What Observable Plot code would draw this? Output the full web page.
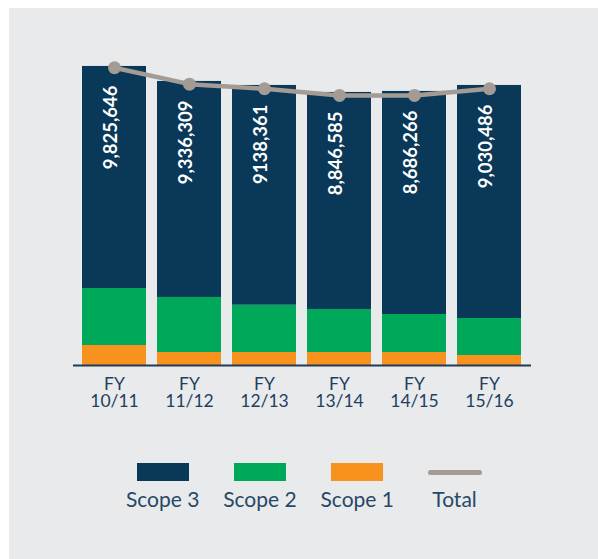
<!DOCTYPE html>
<html>
<head>
<meta charset="utf-8">
<script src="https://cdn.jsdelivr.net/npm/d3@7"></script>
<script src="https://cdn.jsdelivr.net/npm/@observablehq/plot@0.6"></script>
<style>
  html, body { margin: 0; padding: 0; background: #ffffff; }
  #panel { position: absolute; left: 9px; top: 8px; width: 589px; height: 551px; background: #e9eaec; overflow: hidden; }
  #chart { position: absolute; left: 0; top: 0; }
  #legend { position: absolute; left: 105px; top: 455px; display: flex; font-family: Lato, sans-serif; }
  .item { width: 97.3px; display: flex; flex-direction: column; align-items: center; }
  .sw { width: 52px; height: 18px; }
  .lnbox { width: 54px; height: 18px; display: flex; align-items: center; }
  .ln { width: 54px; height: 5px; border-radius: 3px; background: #a39b94; }
  .lab { font-size: 21px; line-height: 21px; margin-top: 7px; color: #274866; white-space: nowrap; }
</style>
</head>
<body>
<div id="panel">
  <div id="chart"></div>
  <div id="legend"></div>
</div>
<script>
// Financial years (tick labels)
const years = ["10/11", "11/12", "12/13", "13/14", "14/15", "15/16"];
// Series values (tCO2e)
const scope1 = [658000, 428000, 428000, 428000, 428000, 329000];
const scope2 = [1875000, 1810000, 1556000, 1415000, 1250000, 1217000];
const scope3 = [7304000, 7106000, 7228000, 7139000, 7337000, 7666000];
// Total line, read from the drawn points
const total = [9794000, 9255000, 9103000, 8883000, 8883000, 9103000];
// Value labels printed in the bars
const labels = ["9,825,646", "9,336,309", "9138,361", "8,846,585", "8,686,266", "9,030,486"];

const seriesNames = ["Scope 1", "Scope 2", "Scope 3"];
const seriesColors = ["#f7921f", "#00a85a", "#0a3858"];

const rows = [];
years.forEach((y, i) => {
  rows.push({fy: y, scope: "Scope 1", value: scope1[i]});
  rows.push({fy: y, scope: "Scope 2", value: scope2[i]});
  rows.push({fy: y, scope: "Scope 3", value: scope3[i]});
});
const tops = years.map((y, i) => ({fy: y, top: scope1[i] + scope2[i] + scope3[i], label: labels[i]}));
const totals = years.map((y, i) => ({fy: y, total: total[i]}));

const H = 420;
const chart = Plot.plot({
  width: 589,
  height: H,
  marginLeft: 64,
  marginRight: 67,
  marginTop: 53,
  marginBottom: H - 357,
  style: {background: "transparent", fontFamily: "Lato, sans-serif", color: "#1f3f5e"},
  x: {domain: years, paddingInner: 0.145, paddingOuter: 0.092, label: null},
  y: {domain: [0, 10000000], axis: null},
  color: {domain: seriesNames, range: seriesColors},
  marks: [
    Plot.barY(rows, {x: "fy", y: "value", fill: "scope"}),
    Plot.ruleY([0], {stroke: "#1f3b55", strokeWidth: 2.2}),
    Plot.axisX({tickSize: 0, tickPadding: 12, fontSize: 17.5, lineHeight: 1, tickFormat: d => "FY\n" + d, label: null}),
    Plot.text(tops, {x: "fy", y: "top", text: "label", rotate: -90, textAnchor: "end", dy: 19, dx: -3, fill: "white", fontWeight: "bold", fontSize: 18.5, style: "letter-spacing:1.3px"}),
    Plot.line(totals, {x: "fy", y: "total", stroke: "#a39b94", strokeWidth: 4.5}),
    Plot.dot(totals, {x: "fy", y: "total", r: 6.5, fill: "#a39b94"})
  ]
});
document.getElementById("chart").appendChild(chart);

const legend = document.getElementById("legend");
const legendItems = [
  {name: "Scope 3", color: "#0a3858"},
  {name: "Scope 2", color: "#00a85a"},
  {name: "Scope 1", color: "#f7921f"},
  {name: "Total", line: true}
];
legendItems.forEach(it => {
  const d = document.createElement("div");
  d.className = "item";
  if (it.line) {
    const b = document.createElement("div"); b.className = "lnbox";
    const l = document.createElement("div"); l.className = "ln";
    b.appendChild(l); d.appendChild(b);
  } else {
    const s = document.createElement("div"); s.className = "sw"; s.style.background = it.color;
    d.appendChild(s);
  }
  const t = document.createElement("div"); t.className = "lab"; t.textContent = it.name;
  d.appendChild(t);
  legend.appendChild(d);
});
</script>
</body>
</html>
